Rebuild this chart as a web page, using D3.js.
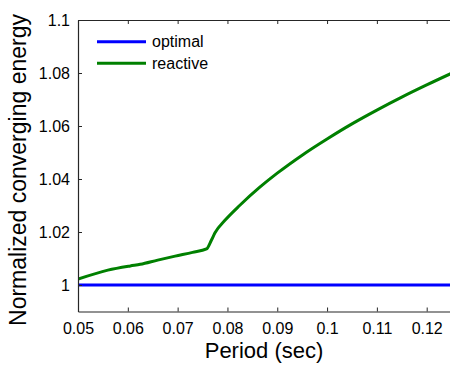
<!DOCTYPE html>
<html><head><meta charset="utf-8">
<script src="https://cdn.jsdelivr.net/npm/d3@7"></script>
<style>body{margin:0;background:#fff}svg{display:block}text{font-family:"Liberation Sans",Arial,sans-serif;fill:#000}</style>
</head><body>
<script>
const periods = [0.050, 0.056, 0.0605, 0.0625, 0.066, 0.0695, 0.073, 0.0758, 0.0768, 0.0775, 0.0795, 0.0825, 0.0865, 0.090, 0.095, 0.100, 0.105, 0.110, 0.115, 0.120, 0.125];
const reactive = [1.0022, 1.0056, 1.0072, 1.0078, 1.0094, 1.0109, 1.0123, 1.0136, 1.0170, 1.0197, 1.0244, 1.0301, 1.0369, 1.0422, 1.0490, 1.0551, 1.0608, 1.0660, 1.0709, 1.0755, 1.0799];
const optimal = periods.map(() => 1.0);
const xTicks = [0.05, 0.06, 0.07, 0.08, 0.09, 0.10, 0.11, 0.12];
const xTickLabels = ["0.05", "0.06", "0.07", "0.08", "0.09", "0.1", "0.11", "0.12"];
const yTicks = [1.00, 1.02, 1.04, 1.06, 1.08, 1.10];
const yTickLabels = ["1", "1.02", "1.04", "1.06", "1.08", "1.1"];
const seriesNames = ["optimal", "reactive"];
const seriesColors = ["#0000ff", "#008000"];

const W = 450, H = 366;
const L = 78, T = 20, B = 311.5, R = 451.6;
const svg = d3.select("body").append("svg").attr("width", W).attr("height", H);
const x = d3.scaleLinear().domain([0.05, 0.125]).range([L, R]);
const y = d3.scaleLinear().domain([0.99, 1.10]).range([B, T]);

svg.append("defs").append("clipPath").attr("id", "clip")
  .append("rect").attr("x", L).attr("y", T).attr("width", R - L).attr("height", B - T);

const line = d3.line().x((d, i) => x(periods[i])).y(d => y(d)).curve(d3.curveMonotoneX);
const g = svg.append("g").attr("clip-path", "url(#clip)");
[optimal, reactive].forEach((s, k) => {
  g.append("path").datum(s).attr("d", line).attr("fill", "none")
    .attr("stroke", seriesColors[k]).attr("stroke-width", 3).attr("stroke-linejoin", "round");
});

const axisColor = "#262626";
function styleAxis(sel) {
  sel.select(".domain").attr("stroke", axisColor).attr("stroke-width", 1.2);
  sel.selectAll(".tick line").attr("stroke", axisColor);
  sel.selectAll(".tick text").style("font-size", "16px").attr("fill", "#000");
}
const xb = svg.append("g").attr("transform", `translate(0,${B})`)
  .call(d3.axisBottom(x).tickValues(xTicks).tickSizeInner(-4).tickSizeOuter(0).tickPadding(11)
    .tickFormat((d, i) => xTickLabels[i]));
styleAxis(xb);
const xt = svg.append("g").attr("transform", `translate(0,${T})`)
  .call(d3.axisTop(x).tickValues(xTicks).tickSizeInner(-4).tickSizeOuter(0).tickFormat(""));
styleAxis(xt);
const yl = svg.append("g").attr("transform", `translate(${L},0)`)
  .call(d3.axisLeft(y).tickValues(yTicks).tickSizeInner(-4).tickSizeOuter(0).tickPadding(8)
    .tickFormat((d, i) => yTickLabels[i]));
styleAxis(yl);

svg.append("text").attr("x", 264).attr("y", 358)
  .attr("text-anchor", "middle").style("font-size", "22px").text("Period (sec)");
svg.append("text").attr("transform", "translate(26,170) rotate(-90)")
  .attr("text-anchor", "middle").style("font-size", "23px").text("Normalized converging energy");

const leg = svg.append("g");
seriesNames.forEach((n, k) => {
  const yy = 41.7 + k * 21.6;
  leg.append("line").attr("x1", 97).attr("x2", 146).attr("y1", yy).attr("y2", yy)
    .attr("stroke", seriesColors[k]).attr("stroke-width", 3);
  leg.append("text").attr("x", 152).attr("y", yy).attr("dy", "0.35em").style("font-size", "16px").text(n);
});
</script>
</body></html>
